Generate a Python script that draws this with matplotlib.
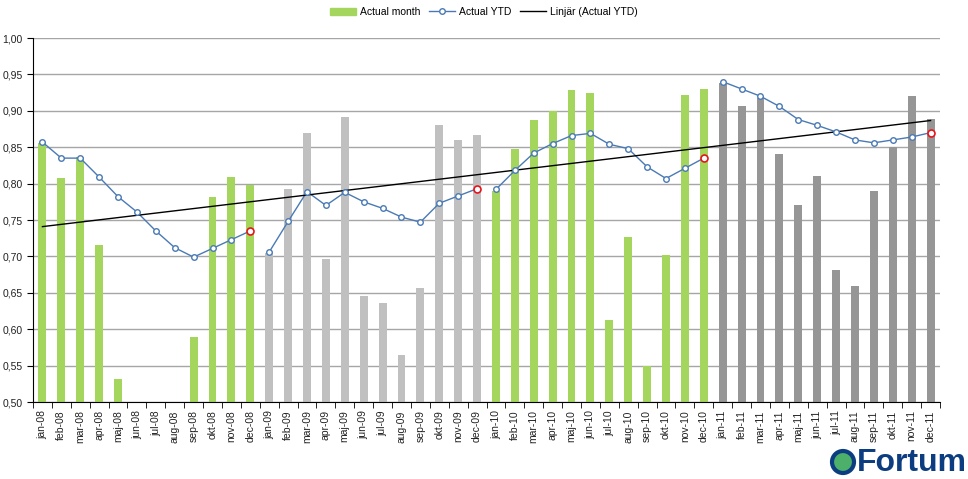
import numpy as np
import matplotlib.pyplot as plt
from matplotlib.patches import Ellipse, Patch
from matplotlib.lines import Line2D
from matplotlib.ticker import FuncFormatter

plt.rcParams['font.family'] = ['Liberation Sans', 'DejaVu Sans']

months = ['jan', 'feb', 'mar', 'apr', 'maj', 'jun', 'jul', 'aug', 'sep', 'okt', 'nov', 'dec']
years = ['08', '09', '10', '11']
labels = [m + '-' + y for y in years for m in months]

# monthly actual values (jun-aug 08 below the axis range)
month_2008 = [0.856, 0.808, 0.836, 0.715, 0.531, 0.48, 0.46, 0.45, 0.589, 0.782, 0.809, 0.798]
month_2009 = [0.705, 0.793, 0.869, 0.697, 0.891, 0.646, 0.636, 0.565, 0.657, 0.880, 0.860, 0.867]
month_2010 = [0.790, 0.848, 0.888, 0.900, 0.929, 0.924, 0.612, 0.726, 0.550, 0.702, 0.922, 0.930]
month_2011 = [0.938, 0.907, 0.917, 0.840, 0.771, 0.810, 0.682, 0.660, 0.790, 0.850, 0.921, 0.889]

ytd_2008 = [0.857, 0.835, 0.835, 0.809, 0.782, 0.761, 0.735, 0.712, 0.699, 0.711, 0.723, 0.735]
ytd_2009 = [0.706, 0.748, 0.789, 0.770, 0.788, 0.775, 0.766, 0.754, 0.747, 0.773, 0.783, 0.793]
ytd_2010 = [0.792, 0.818, 0.842, 0.855, 0.866, 0.869, 0.854, 0.848, 0.823, 0.807, 0.821, 0.835]
ytd_2011 = [0.940, 0.930, 0.920, 0.906, 0.888, 0.880, 0.871, 0.860, 0.856, 0.860, 0.864, 0.870]

bar_colors = ['#a4d65e', '#c0c0c0', '#a4d65e', '#969696']
line_col = '#4a7ab5'

fig = plt.figure(figsize=(9.68, 4.79), dpi=100)
ax = fig.add_axes([33 / 968, 1 - 402 / 479, 907 / 968, 364 / 479])

x = np.arange(48)
for i, vals in enumerate([month_2008, month_2009, month_2010, month_2011]):
    ax.bar(x[i * 12:(i + 1) * 12], vals, width=0.42, color=bar_colors[i], zorder=2)

ytd = np.array(ytd_2008 + ytd_2009 + ytd_2010 + ytd_2011)
for i, part in enumerate([ytd_2008, ytd_2009, ytd_2010, ytd_2011]):
    xs = x[i * 12:(i + 1) * 12]
    ax.plot(xs, part, '-', color=line_col, lw=1, zorder=3)
    ax.plot(xs[:-1], part[:-1], 'o', ms=4, mfc='white', mec=line_col, mew=1, zorder=4)
    ax.plot(xs[-1], part[-1], 'o', ms=5, mfc='white', mec='#e8141b', mew=1.2, zorder=4)

# linear trend of YTD
k, b = np.polyfit(x, ytd, 1)
ax.plot(x, k * x + b, color='black', lw=1, zorder=3)

ax.set_xlim(-0.5, 47.5)
ax.set_ylim(0.5, 1.0)
ax.set_yticks(np.arange(0.5, 1.001, 0.05))
ax.yaxis.set_major_formatter(FuncFormatter(lambda v, p: f'{v:.2f}'.replace('.', ',')))
ax.grid(axis='y', color='#a6a6a6', lw=1, zorder=0)
ax.set_axisbelow(True)
ax.set_xticks(x)
ax.set_xticklabels(labels, rotation=90, fontsize=7.5, color='#222222')
ax.set_xticks(np.arange(-0.5, 48, 1), minor=True)
ax.tick_params(axis='x', which='major', length=0, pad=6)
ax.tick_params(axis='x', which='minor', length=4, direction='out')
ax.tick_params(axis='y', labelsize=7.5, labelcolor='#222222', length=4, direction='out')
for s in ['top', 'right']:
    ax.spines[s].set_visible(False)

handles = [Patch(color='#a4d65e'),
           Line2D([], [], color=line_col, lw=1, marker='o', ms=4, mfc='white', mec=line_col),
           Line2D([], [], color='black', lw=1)]
fig.legend(handles, ['Actual month', 'Actual YTD', 'Linjär (Actual YTD)'],
           loc='center', bbox_to_anchor=(0.5, 1 - 12 / 479), ncol=3, frameon=False,
           fontsize=7.5, handlelength=2.5, columnspacing=0.8, handletextpad=0.4)

# logo
fig.text(967 / 968, 1 - 463 / 479, 'Fortum', fontsize=23, fontweight='bold',
         color='#0b3d80', va='center', ha='right')
fig.patches.append(Ellipse((843 / 968, 1 - 462 / 479), 22 / 968, 22 / 479,
                           transform=fig.transFigure,
                           facecolor='#4caf6a', edgecolor='#0b3d80', lw=3))

fig.savefig('out.png', dpi=100)
